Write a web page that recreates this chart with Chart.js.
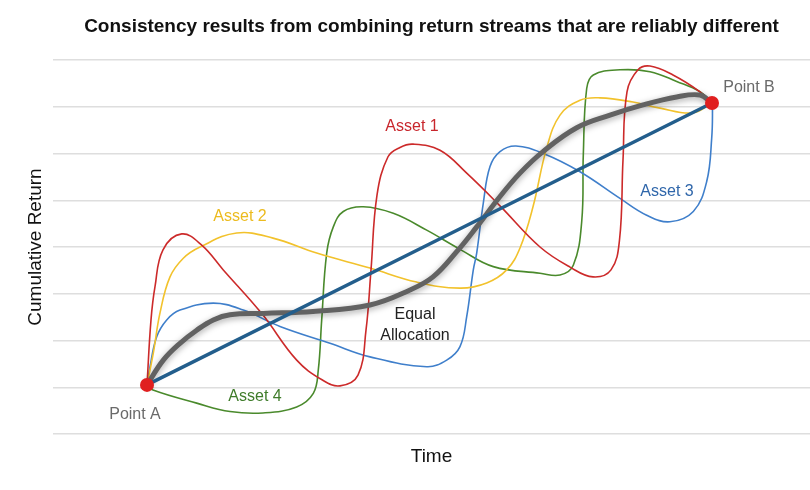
<!DOCTYPE html>
<html>
<head>
<meta charset="utf-8">
<script src="https://cdn.jsdelivr.net/npm/chart.js@4"></script>
<style>
  html, body { margin: 0; padding: 0; background: #fff; overflow: hidden; }
  #wrap { width: 810px; height: 490px; }
</style>
</head>
<body>
<div id="wrap"><canvas id="chartCanvas"></canvas></div>
<script>
// conceptual paths (x = time units, y = cumulative return units)
const pointA = [18.8, 1.05];
const pointB = [131.8, 7.08];

const asset1 = [[18.8,1.05],[19.6,2.44],[20.4,3.15],[22.0,3.94],[25.74,4.28],[29.74,4.04],[34.06,3.51],[41.8,2.57],
  [48.74,1.58],[53.8,1.16],[57.4,1.03],[61.0,1.26],[62.6,2.22],[63.6,3.51],[64.8,5.11],[67.0,5.93],[69.4,6.13],
  [72.0,6.2],[77.4,6.07],[82.74,5.58],[89.4,4.88],[97.4,4.0],[103.4,3.57],[108.0,3.36],[111.6,3.51],[113.3,4.15],
  [114.0,5.86],[114.8,7.32],[117.0,7.79],[119.4,7.87],[124.0,7.68],[129.4,7.32],[131.8,7.08]];

const asset2 = [[18.8,1.05],[20.06,1.73],[21.4,2.59],[23.4,3.36],[26.06,3.76],[29.4,4.0],[36.74,4.3],[44.0,4.19],
  [52.74,3.87],[63.4,3.55],[72.74,3.25],[81.4,3.12],[86.74,3.23],[90.74,3.51],[93.4,3.98],[96.0,4.86],[98.74,6.12],
  [101.4,6.82],[105.4,7.14],[109.4,7.19],[116.0,7.1],[121.4,6.97],[128.0,6.87],[131.8,7.08]];

const asset3 = [[18.8,1.05],[19.4,1.44],[20.74,2.08],[22.74,2.44],[25.4,2.65],[32.06,2.8],[38.06,2.65],[45.4,2.3],
  [55.4,1.94],[63.4,1.65],[74.74,1.44],[78.74,1.58],[81.4,1.87],[82.74,2.51],[84.06,3.51],[84.74,3.87],[86.06,4.94],
  [87.4,5.72],[89.4,6.04],[92.6,6.16],[98.06,6.0],[105.4,5.61],[113.4,5.04],[118.74,4.68],[123.4,4.54],[128.06,4.76],
  [130.74,5.4],[131.74,6.33],[131.9,6.97],[131.8,7.08]];

const asset4 = [[18.8,1.05],[20.0,0.94],[28.74,0.66],[35.4,0.48],[42.0,0.45],[48.74,0.58],[52.06,0.87],[53.06,1.37],
  [53.74,2.44],[54.74,3.87],[56.06,4.43],[58.06,4.76],[62.06,4.86],[68.06,4.72],[74.74,4.36],[81.4,3.95],[88.06,3.58],
  [97.4,3.44],[101.4,3.4],[104.06,3.61],[105.74,4.54],[106.06,5.97],[106.74,7.39],[108.06,7.68],[113.4,7.79],
  [119.4,7.75],[124.74,7.54],[129.4,7.32],[131.8,7.08]];

const equalAllocation = [[18.8,1.05],[22.06,1.58],[25.4,1.94],[28.74,2.22],[32.06,2.44],[35.4,2.55],[42.06,2.58],
  [52.0,2.62],[63.4,2.76],[71.4,3.08],[76.0,3.36],[80.74,3.9],[84.74,4.43],[89.4,5.08],[93.4,5.58],[98.0,6.04],
  [104.74,6.55],[111.4,6.82],[118.0,7.04],[124.74,7.21],[129.4,7.25],[131.8,7.08]];

const straightPath = [pointA, pointB];

const FONT = '"Liberation Sans", Arial, Helvetica, sans-serif';

const textLabels = [
  { text: 'Asset 1', x: 71.8, y: 6.57, color: '#c8262c' },
  { text: 'Asset 2', x: 37.4, y: 4.64, color: '#ecbb1e' },
  { text: 'Asset 3', x: 122.8, y: 5.18, color: '#2f66aa' },
  { text: 'Asset 4', x: 40.4, y: 0.81, color: '#3f7c2a' },
  { text: 'Equal', x: 72.4, y: 2.55, color: '#222222' },
  { text: 'Allocation', x: 72.4, y: 2.11, color: '#222222' },
  { text: 'Point A', x: 16.4, y: 0.41, color: '#6a6a6a' },
  { text: 'Point B', x: 139.2, y: 7.4, color: '#6a6a6a' }
];

const toXY = arr => arr.map(p => ({ x: p[0], y: p[1] }));

function curve(data, color, width) {
  return {
    data: toXY(data),
    showLine: true,
    borderColor: color,
    borderWidth: width,
    pointRadius: 0,
    tension: 0.4,
    fill: false
  };
}

// soft halo under the equal-allocation path
const shadowPlugin = {
  id: 'shadow',
  beforeDatasetDraw(chart, args) {
    if (args.index === 2) {
      const ctx = chart.ctx;
      ctx.save();
      ctx.shadowColor = 'rgba(0,0,0,0.35)';
      ctx.shadowBlur = 6;
      ctx.shadowOffsetY = 2;
    }
  },
  afterDatasetDraw(chart, args) {
    if (args.index === 2) chart.ctx.restore();
  }
};

const textPlugin = {
  id: 'texts',
  afterDraw(chart) {
    const ctx = chart.ctx;
    const xs = chart.scales.x, ys = chart.scales.y;
    ctx.save();
    ctx.textAlign = 'center';
    ctx.textBaseline = 'middle';
    ctx.font = '16px ' + FONT;
    textLabels.forEach(l => {
      ctx.fillStyle = l.color;
      ctx.fillText(l.text, xs.getPixelForValue(l.x), ys.getPixelForValue(l.y));
    });
    ctx.font = 'bold 19px ' + FONT;
    ctx.fillStyle = '#111';
    const ca = chart.chartArea;
    ctx.fillText('Consistency results from combining return streams that are reliably different', (ca.left + ca.right) / 2, 27);
    ctx.restore();
  }
};

const ctx = document.getElementById('chartCanvas').getContext('2d');
new Chart(ctx, {
  type: 'scatter',
  data: {
    datasets: [
      {
        data: toXY([pointA, pointB]),
        pointRadius: 7,
        pointHoverRadius: 7,
        pointBackgroundColor: '#e01f1f',
        pointBorderWidth: 0,
        showLine: false
      },
      curve(straightPath, '#235e8c', 3.5),
      curve(equalAllocation, '#626262', 5),
      curve(asset1, '#cc2a2a', 1.6),
      curve(asset2, '#f2c22c', 1.6),
      curve(asset3, '#3f7fcb', 1.6),
      curve(asset4, '#4a8a2c', 1.6)
    ]
  },
  options: {
    responsive: true,
    maintainAspectRatio: false,
    animation: false,
    layout: { autoPadding: false, padding: { left: 20.6, right: 0, top: 60, bottom: 17.6 } },
    plugins: { legend: { display: false }, tooltip: { enabled: false } },
    scales: {
      x: {
        type: 'linear',
        min: 0,
        max: 151.4,
        grid: { display: false, drawTicks: false },
        border: { display: false },
        ticks: { display: false },
        title: { display: true, text: 'Time', color: '#111', font: { size: 19, family: FONT }, padding: { top: 11.6, bottom: 4 } }
      },
      y: {
        min: 0,
        max: 8,
        ticks: { display: false, stepSize: 1 },
        grid: { color: '#dedede', lineWidth: 1.5, drawTicks: false },
        border: { display: false },
        title: { display: true, text: 'Cumulative Return', color: '#111', font: { size: 19, family: FONT }, padding: { top: 4, bottom: 5.6 } }
      }
    }
  },
  plugins: [shadowPlugin, textPlugin]
});
</script>
</body>
</html>
